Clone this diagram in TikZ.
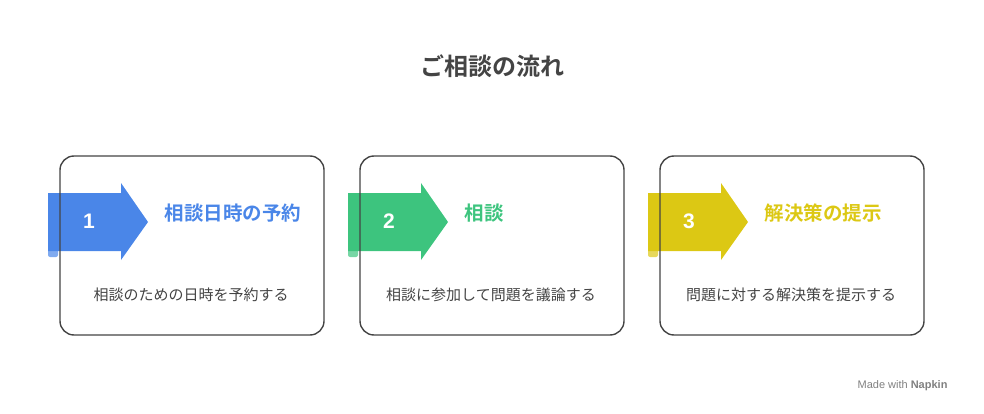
\documentclass[tikz,border=0pt]{standalone}
\usepackage{fontspec}
\setmainfont{Noto Sans CJK JP}
\newfontfamily\cjkb{Noto Sans CJK JP Bold}
\newfontfamily\numf{Liberation Sans}
\definecolor{cblue}{HTML}{4A86E8}
\definecolor{cgreen}{HTML}{3DC47E}
\definecolor{cyel}{HTML}{DCC814}
\definecolor{txt}{HTML}{444444}
\tikzset{card/.style={draw=txt,line width=1.4pt,rounded corners=14pt},
 ttl/.style={anchor=west,font=\cjkb\fontsize{19.5}{22}\selectfont},
 num/.style={text=white,font=\numf\bfseries\fontsize{21}{22}\selectfont},
 desc/.style={text=txt,font=\fontsize{15}{17}\selectfont}}
\begin{document}
\begin{tikzpicture}[x=1pt,y=-1pt]
\useasboundingbox (0,0) rectangle (984,414);
\node[text=txt,font=\cjkb\fontsize{24}{28}\selectfont] (title) at (492,66) {ご相談の流れ};
\foreach \i/\c/\n/\t/\d in {0/cblue/1/相談日時の予約/相談のための日時を予約する,1/cgreen/2/相談/相談に参加して問題を議論する,2/cyel/3/解決策の提示/問題に対する解決策を提示する}{
 \begin{scope}[xshift=300*\i]
 \fill[\c!70!white,rounded corners=2pt] (48,249) rectangle (58,257);
 \fill[\c] (48,193) -- (121,193) -- (121,183) -- (148,222) -- (121,260) -- (121,251) -- (48,251) -- cycle;
 \draw[card] (60,156) rectangle (324,335);
 \node[num] (n\i) at (89,221) {\n};
 \node[ttl,text=\c] (t\i) at (161,213) {\t};
 \node[desc] (d\i) at (191,295) {\d};
 \end{scope}}
\node[text=gray,font=\numf\fontsize{11}{12}\selectfont,anchor=east] (mw) at (951,386) {Made with \textbf{Napkin}};
\end{tikzpicture}
\end{document}
